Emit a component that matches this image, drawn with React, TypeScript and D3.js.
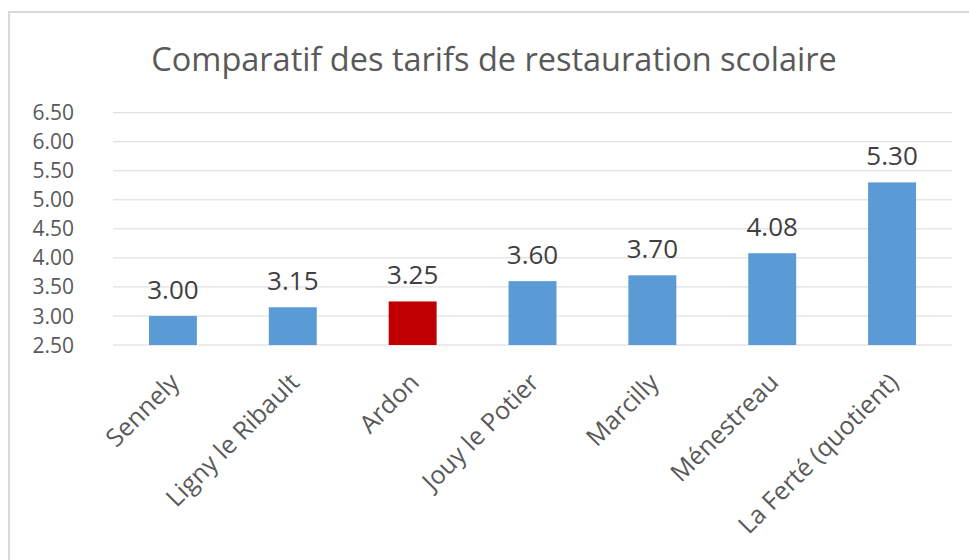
import React from "react";
import * as d3 from "d3";

const categories = ["Sennely", "Ligny le Ribault", "Ardon", "Jouy le Potier", "Marcilly", "Ménestreau", "La Ferté (quotient)"];
const values = [3.0, 3.15, 3.25, 3.6, 3.7, 4.08, 5.3];
const highlighted = ["Ardon"];
const yTicks = [2.5, 3.0, 3.5, 4.0, 4.5, 5.0, 5.5, 6.0, 6.5];
const title = "Comparatif des tarifs de restauration scolaire";

const W = 969;
const H = 560;
const plotLeft = 113;
const plotRight = 952;
const plotTop = 112.7;
const plotBottom = 345;
const FONT = "'Open Sans', 'Noto Sans', sans-serif";

export default function App() {
  const x = d3.scaleBand<string>().domain(categories).range([plotLeft, plotRight]).paddingInner(0.6).paddingOuter(0.3);
  const y = d3.scaleLinear().domain([2.5, 6.5]).range([plotBottom, plotTop]);
  const fmt = d3.format(".2f");

  return (
    <div style={{ position: "absolute", left: 0, top: 0 }}>
      <svg width={W} height={H} style={{ display: "block", background: "#fff" }}>
        <rect x={9} y={12} width={W + 20} height={H + 20} fill="#fff" stroke="#d9d9d9" strokeWidth={2} />
        <text x={494} y={71} textAnchor="middle" fontFamily={FONT} fontSize={32.5} fill="#595959">
          {title}
        </text>
        {yTicks.map((t) => (
          <g key={t}>
            <line x1={plotLeft} x2={plotRight} y1={y(t)} y2={y(t)} stroke="#d9d9d9" strokeWidth={1} />
            <text x={74} y={y(t)} dy="0.36em" textAnchor="end" fontFamily={FONT} fontSize={21} fill="#595959">
              {fmt(t)}
            </text>
          </g>
        ))}
        {categories.map((c, i) => {
          const v = values[i];
          const bx = x(c)!;
          const bw = x.bandwidth();
          const cx = bx + bw / 2;
          return (
            <g key={c}>
              <rect
                x={bx}
                y={y(v)}
                width={bw}
                height={y(2.5) - y(v)}
                fill={highlighted.includes(c) ? "#c00000" : "#5b9bd5"}
              />
              <text x={cx} y={y(v) - 17} textAnchor="middle" fontFamily={FONT} fontSize={26} fill="#404040">
                {fmt(v)}
              </text>
              <text
                transform={`translate(${cx + 8},${plotBottom + 39}) rotate(-45)`}
                textAnchor="end"
                fontFamily={FONT}
                fontSize={25}
                fill="#595959"
              >
                {c}
              </text>
            </g>
          );
        })}
      </svg>
    </div>
  );
}
